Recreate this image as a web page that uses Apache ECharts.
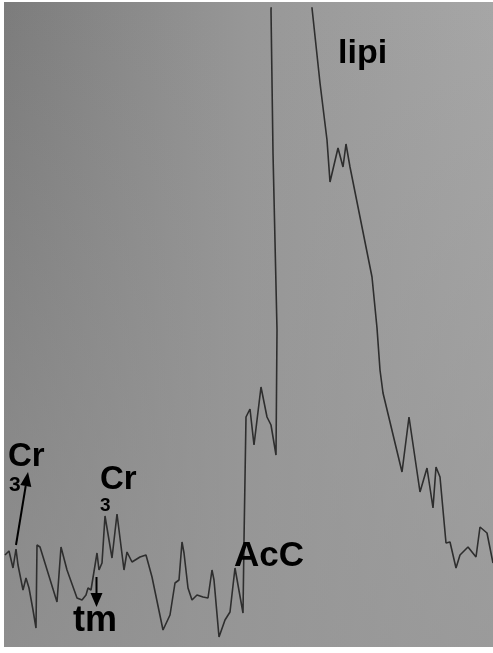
<!DOCTYPE html>
<html>
<head>
<meta charset="utf-8">
<script src="https://cdn.jsdelivr.net/npm/echarts@6/dist/echarts.min.js"></script>
<style>html,body{margin:0;padding:0;background:#fff;}#c{width:493px;height:653px;}</style>
</head>
<body>
<div id="c"></div>
<script>
// Spectrum trace: sample index (arbitrary) and intensity (arbitrary units)
const sampleIndex = [1,5,9,12,14,19,22,25,29,32,33,36,53,57,63,73,78,82,84,87,93,95,98,101,108,113,120,123,128,136,142,148,159,166,171,175,178,180,184,188,193,199,204,208,210,215,221,226,231,234,239,240,242,246,250,257,263,267,272,273,269,267,288,308,316,323,326,334,339,342,346,368,373,376,379,398,405,416,423,429,432,436,442,446,452,456,464,472,476,483,489];
const intensity = [92,96,79,98,82,57,69,59,37,19,102,100,45,100,77,49,47,52,59,57,94,77,84,131,89,133,77,95,85,90,92,70,17,32,64,67,105,94,59,47,52,50,49,77,67,10,27,35,79,62,34,107,230,238,202,260,230,222,192,317,494,637,1047,639,564,507,465,499,480,503,480,370,319,277,254,175,230,155,179,139,180,170,104,105,79,92,100,90,120,114,84];
const peakLabels = ['Cr', '3', 'Cr', '3', 'tm', 'AcC', 'lipi'];

const chart = echarts.init(document.getElementById('c'), null, {renderer: 'canvas'});
const data = sampleIndex.map((x, i) => [x, intensity[i]]);

const font = (s) => 'bold ' + s + 'px "Liberation Sans", Arial, sans-serif';
function label(text, x, y, size) {
  return {type: 'text', z: 100, style: {text: text, x: x, y: y, font: font(size), fill: '#000', verticalAlign: 'middle', align: 'left'}};
}

chart.setOption({
  animation: false,
  backgroundColor: '#ffffff',
  grid: {left: 4, right: 0, top: 8, bottom: 6, containLabel: false},
  xAxis: {type: 'value', min: 0, max: 489, show: false},
  yAxis: {type: 'value', min: 0, max: 639, show: false},
  graphic: [
    {type: 'rect', z: -10, silent: true, shape: {x: 4, y: 2, width: 489, height: 645},
      style: {fill: new echarts.graphic.LinearGradient(0, 0, 1, 0, [
        {offset: 0, color: '#7c7c7c'}, {offset: 0.5, color: '#979797'}, {offset: 1, color: '#a6a6a6'}])}},
    {type: 'rect', z: -9, silent: true, shape: {x: 4, y: 2, width: 489, height: 645},
      style: {fill: new echarts.graphic.LinearGradient(0, 0, 0, 1, [
        {offset: 0, color: 'rgba(150,150,150,0)'}, {offset: 1, color: 'rgba(150,150,150,0.7)'}])}},
    label(peakLabels[0], 8, 457, 33),
    label(peakLabels[1], 9, 485, 21),
    label(peakLabels[2], 100, 480, 33),
    label(peakLabels[3], 100, 506, 19),
    label(peakLabels[4], 73, 621, 36),
    label(peakLabels[5], 234, 556, 35),
    label(peakLabels[6], 338, 54, 34),
    {type: 'line', z: 100, shape: {x1: 16, y1: 545, x2: 25.7, y2: 486}, style: {stroke: '#000', lineWidth: 2}},
    {type: 'polygon', z: 100, shape: {points: [[28, 472], [31.3, 487], [20.3, 485]]}, style: {fill: '#000'}},
    {type: 'line', z: 100, shape: {x1: 96.5, y1: 577, x2: 96.5, y2: 594}, style: {stroke: '#000', lineWidth: 2}},
    {type: 'polygon', z: 100, shape: {points: [[96.5, 607], [90.5, 593], [102.5, 593]]}, style: {fill: '#000'}}
  ],
  series: [{
    type: 'line',
    data: data,
    showSymbol: false,
    clip: true,
    lineStyle: {color: '#2e2e2e', width: 1.6},
    z: 5
  }]
});
</script>
</body>
</html>
